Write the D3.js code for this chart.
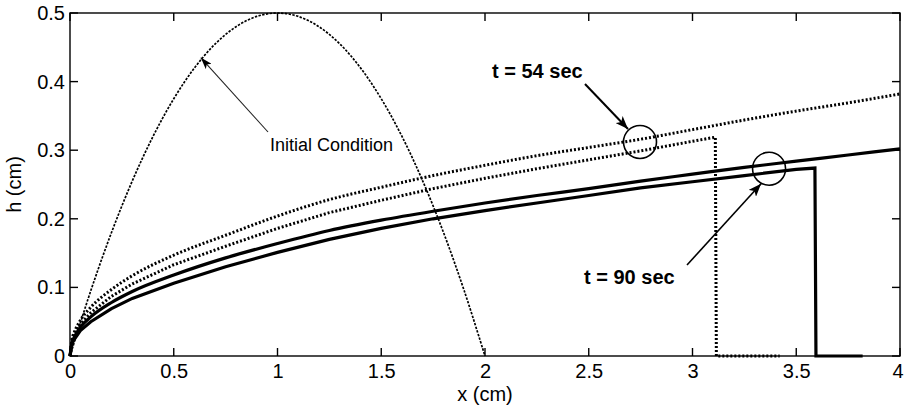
<!DOCTYPE html>
<html>
<head>
<meta charset="utf-8">
<script src="https://cdn.jsdelivr.net/npm/d3@7"></script>
<style>
  html, body { margin: 0; padding: 0; background: #fff; }
  svg { display: block; }
  text { font-family: "Liberation Sans", Arial, Helvetica, sans-serif; fill: #000; }
</style>
</head>
<body>
<svg id="chart" width="904" height="413"></svg>
<script>
// Thin-film profile h(x) at two times, with the initial parabolic condition.

const xTicks = [0, 0.5, 1, 1.5, 2, 2.5, 3, 3.5, 4];
const yTicks = [0, 0.1, 0.2, 0.3, 0.4, 0.5];

// Initial condition
const xInit = [0, 0.1, 0.2, 0.3, 0.4, 0.5, 0.6, 0.7, 0.8, 0.9, 1.0, 1.1, 1.2, 1.3, 1.4, 1.5, 1.6, 1.7, 1.8, 1.9, 2.0];
const hInit = [0, 0.095, 0.18, 0.255, 0.32, 0.375, 0.42, 0.455, 0.48, 0.495, 0.5, 0.495, 0.48, 0.455, 0.42, 0.375, 0.32, 0.255, 0.18, 0.095, 0];

// Common abscissa for the similarity profiles
const xRef = [0, 0.01, 0.02, 0.05, 0.1, 0.2, 0.3, 0.5, 0.75, 1, 1.25, 1.5, 1.75, 2, 2.25, 2.5, 2.75, 3, 3.25, 3.5, 3.75, 4];

// t = 54 sec: similarity profile and computed profile with its front
const hRef54 = [0, 0.025, 0.034, 0.052, 0.071, 0.097, 0.117, 0.147, 0.176, 0.204, 0.228, 0.246, 0.263, 0.278, 0.292, 0.304, 0.316, 0.330, 0.344, 0.357, 0.369, 0.382];
const xNum54 = [0, 0.01, 0.02, 0.05, 0.1, 0.2, 0.3, 0.5, 0.75, 1, 1.25, 1.5, 1.75, 2, 2.25, 2.5, 2.75, 3, 3.11, 3.115, 3.42];
const hNum54 = [0, 0.022, 0.030, 0.046, 0.063, 0.087, 0.105, 0.133, 0.160, 0.186, 0.209, 0.227, 0.244, 0.259, 0.273, 0.286, 0.299, 0.313, 0.319, 0, 0];

// t = 90 sec: similarity profile and computed profile with its front
const hRef90 = [0, 0.020, 0.027, 0.042, 0.057, 0.078, 0.094, 0.118, 0.143, 0.164, 0.183, 0.198, 0.211, 0.223, 0.234, 0.244, 0.255, 0.265, 0.275, 0.284, 0.293, 0.302];
const xNum90 = [0, 0.01, 0.02, 0.05, 0.1, 0.2, 0.3, 0.5, 0.75, 1, 1.25, 1.5, 1.75, 2, 2.25, 2.5, 2.75, 3, 3.25, 3.5, 3.59, 3.595, 3.82];
const hNum90 = [0, 0.018, 0.024, 0.037, 0.050, 0.069, 0.084, 0.106, 0.130, 0.151, 0.170, 0.186, 0.200, 0.212, 0.223, 0.234, 0.245, 0.254, 0.263, 0.272, 0.274, 0, 0];

// Highlight circles (data coordinates)
const circle54 = { x: 2.747, h: 0.312 };
const circle90 = { x: 3.369, h: 0.273 };

const svg = d3.select("#chart");
const W = 904, H = 413;
const m = { left: 70, right: 4, top: 13, bottom: 57 };
const FS = 20;

const x = d3.scaleLinear().domain([0, 4]).range([m.left, W - m.right]);
const y = d3.scaleLinear().domain([0, 0.5]).range([H - m.bottom, m.top]);

const zip = (xs, hs) => xs.map((v, i) => [v, hs[i]]);
const line = d3.line().x(d => x(d[0])).y(d => y(d[1])).curve(d3.curveMonotoneX);
const lineLin = d3.line().x(d => x(d[0])).y(d => y(d[1]));

const defs = svg.append("defs");
function marker(id, w, l) {
  defs.append("marker")
    .attr("id", id)
    .attr("viewBox", `0 -${w} ${l} ${2 * w}`)
    .attr("refX", l).attr("refY", 0)
    .attr("markerUnits", "userSpaceOnUse")
    .attr("markerWidth", l).attr("markerHeight", 2 * w)
    .attr("orient", "auto")
    .append("path")
    .attr("d", `M0,-${w}L${l},0L0,${w}L${l * 0.25},0Z`)
    .attr("fill", "#000");
}
marker("arrThin", 4, 12);
marker("arrBold", 5, 13);

const plot = svg.append("g");

// Curves
plot.append("path").datum(zip(xInit, hInit))
  .attr("d", d3.line().x(d => x(d[0])).y(d => y(d[1])).curve(d3.curveCatmullRom))
  .attr("fill", "none").attr("stroke", "#000").attr("stroke-width", 1.7)
  .attr("stroke-dasharray", "2.4,1.4");

plot.append("path").datum(zip(xRef, hRef54))
  .attr("d", line).attr("fill", "none").attr("stroke", "#000")
  .attr("stroke-width", 3).attr("stroke-dasharray", "2,2");

plot.append("path").datum(zip(xNum54, hNum54))
  .attr("d", lineLin).attr("fill", "none").attr("stroke", "#000")
  .attr("stroke-width", 3).attr("stroke-dasharray", "2,2");

plot.append("path").datum(zip(xRef, hRef90))
  .attr("d", line).attr("fill", "none").attr("stroke", "#000")
  .attr("stroke-width", 3.2);

plot.append("path").datum(zip(xNum90, hNum90))
  .attr("d", lineLin).attr("fill", "none").attr("stroke", "#000")
  .attr("stroke-width", 3.2);

// Axes box
const axisG = svg.append("g");
axisG.append("rect")
  .attr("x", x(0)).attr("y", y(0.5))
  .attr("width", x(4) - x(0)).attr("height", y(0) - y(0.5))
  .attr("fill", "none").attr("stroke", "#000").attr("stroke-width", 1.4);

const tl = 8;
const bottomAxis = d3.axisBottom(x).tickValues(xTicks).tickSize(0).tickPadding(8).tickFormat(d3.format("~g"));
const leftAxis = d3.axisLeft(y).tickValues(yTicks).tickSize(0).tickPadding(5).tickFormat(d3.format("~g"));

const gb = svg.append("g").attr("transform", `translate(0,${y(0)})`).call(bottomAxis);
const gl = svg.append("g").attr("transform", `translate(${x(0)},0)`).call(leftAxis);
[gb, gl].forEach(g => {
  g.select(".domain").remove();
  g.selectAll("text").attr("font-size", FS).style("font-family", "Liberation Sans, Arial, sans-serif");
});
// keep the last x label inside the frame
gb.selectAll(".tick").filter(d => d === 4).select("text").attr("text-anchor", "end").attr("x", 3);

// Inward ticks on all four sides
xTicks.forEach(v => {
  axisG.append("line").attr("x1", x(v)).attr("x2", x(v)).attr("y1", y(0)).attr("y2", y(0) - tl).attr("stroke", "#000").attr("stroke-width", 1.4);
  axisG.append("line").attr("x1", x(v)).attr("x2", x(v)).attr("y1", y(0.5)).attr("y2", y(0.5) + tl).attr("stroke", "#000").attr("stroke-width", 1.4);
});
yTicks.forEach(v => {
  axisG.append("line").attr("x1", x(0)).attr("x2", x(0) + tl).attr("y1", y(v)).attr("y2", y(v)).attr("stroke", "#000").attr("stroke-width", 1.4);
  axisG.append("line").attr("x1", x(4)).attr("x2", x(4) - tl).attr("y1", y(v)).attr("y2", y(v)).attr("stroke", "#000").attr("stroke-width", 1.4);
});

// Axis titles
svg.append("text").attr("x", x(2)).attr("y", 401)
  .attr("text-anchor", "middle").attr("font-size", FS).text("x (cm)");
svg.append("text").attr("transform", `translate(21,${(y(0) + y(0.5)) / 2}) rotate(-90)`)
  .attr("text-anchor", "middle").attr("font-size", FS).text("h (cm)");

// Annotations
const ann = svg.append("g");
const r = 16.5;
[circle54, circle90].forEach(c => ann.append("circle")
  .attr("cx", x(c.x)).attr("cy", y(c.h)).attr("r", r)
  .attr("fill", "none").attr("stroke", "#000").attr("stroke-width", 1.6));

// Initial condition label and arrow
ann.append("text").attr("x", 270).attr("y", 151).attr("font-size", 18).text("Initial Condition");
ann.append("line").attr("x1", 268).attr("y1", 132).attr("x2", x(0.63)).attr("y2", y(0.435))
  .attr("stroke", "#222").attr("stroke-width", 1.1).attr("marker-end", "url(#arrThin)");

// t = 54 sec
ann.append("text").attr("x", 492).attr("y", 78).attr("font-size", FS).attr("font-weight", "bold").text("t = 54 sec");
ann.append("line").attr("x1", 585).attr("y1", 84).attr("x2", x(circle54.x) - 12).attr("y2", y(circle54.h) - 13)
  .attr("stroke", "#000").attr("stroke-width", 2).attr("marker-end", "url(#arrBold)");

// t = 90 sec
ann.append("text").attr("x", 584).attr("y", 284).attr("font-size", FS).attr("font-weight", "bold").text("t = 90 sec");
ann.append("line").attr("x1", 687).attr("y1", 265).attr("x2", x(circle90.x) - 8).attr("y2", y(circle90.h) + 15)
  .attr("stroke", "#000").attr("stroke-width", 1.6).attr("marker-end", "url(#arrBold)");
</script>
</body>
</html>
